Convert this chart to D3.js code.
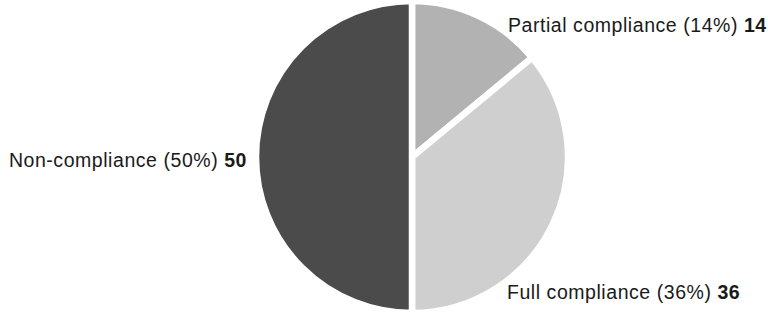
<!DOCTYPE html>
<html>
<head>
<meta charset="utf-8">
<script src="https://cdn.jsdelivr.net/npm/d3@7"></script>
<style>
  body { margin: 0; background: #fff; }
  text { font-family: "Liberation Sans", Arial, sans-serif; }
</style>
</head>
<body>
<svg width="768" height="315"></svg>
<script>
const categories = ["Partial compliance", "Full compliance", "Non-compliance"];
const values = [14, 36, 50];
const colors = ["#b2b2b2", "#cfcfcf", "#4b4b4b"];

const svg = d3.select("svg");
const cx = 412, cy = 157, radius = 156;

const data = categories.map((c, i) => ({ name: c, value: values[i], color: colors[i] }));
const total = d3.sum(values);

const pie = d3.pie().sort(null).value(d => d.value);
const arc = d3.arc().innerRadius(0).outerRadius(radius);
const arcs = pie(data);

const g = svg.append("g").attr("transform", `translate(${cx},${cy})`);

g.selectAll("path")
  .data(arcs)
  .enter()
  .append("path")
  .attr("d", arc)
  .attr("fill", d => d.data.color)
  .attr("stroke", "#fff")
  .attr("stroke-width", 6.5)
  .attr("stroke-linejoin", "miter");

// label placement: [x, y, anchor] per slice
const labelPos = [
  [508, 32, "start"],
  [507, 299, "start"],
  [247, 167, "end"]
];

arcs.forEach((d, i) => {
  const [x, y, anchor] = labelPos[i];
  const pct = Math.round(d.data.value / total * 100);
  const t = svg.append("text")
    .attr("x", x)
    .attr("y", y)
    .attr("text-anchor", anchor)
    .attr("font-size", 19.5)
    .attr("letter-spacing", 0.55)
    .attr("fill", "#1a1a1a");
  t.append("tspan").text(`${d.data.name} (${pct}%) `);
  t.append("tspan").attr("font-weight", "bold").text(d.data.value);
});
</script>
</body>
</html>
